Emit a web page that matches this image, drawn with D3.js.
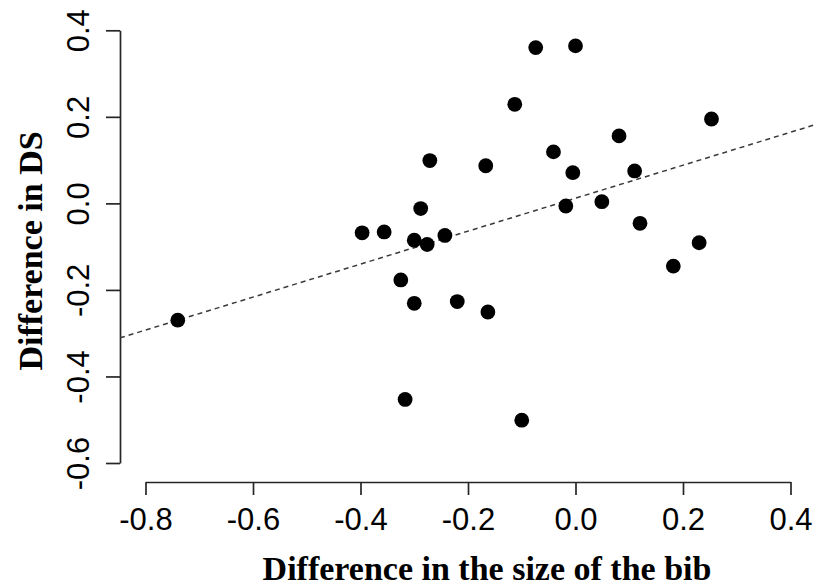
<!DOCTYPE html>
<html>
<head>
<meta charset="utf-8">
<script src="https://cdn.jsdelivr.net/npm/d3@7"></script>
<style>
  html, body { margin: 0; padding: 0; background: #fff; }
  svg { display: block; }
</style>
</head>
<body>
<svg id="chart" width="814" height="586"></svg>
<script>
// Paired differences: bib size (x) against DS (y)
const bibDiff = [-0.740, -0.397, -0.356, -0.325, -0.300, -0.300, -0.288, -0.276, -0.271, -0.243,
                 -0.220, -0.167, -0.163, -0.317, -0.113, -0.100, -0.074, -0.041, -0.018, -0.005,
                  0.000,  0.049,  0.081,  0.110,  0.120,  0.182,  0.230,  0.253];
const dsDiff  = [-0.270, -0.068, -0.066, -0.177, -0.085, -0.231, -0.012, -0.095,  0.099, -0.074,
                 -0.227,  0.087, -0.251, -0.453,  0.229, -0.501,  0.360,  0.119, -0.006,  0.071,
                  0.364,  0.004,  0.156,  0.075, -0.046, -0.145, -0.091,  0.195];

// Fitted least-squares line
const fitIntercept = 0.012;
const fitSlope = 0.381;

// Axis ticks
const xTicks = [-0.8, -0.6, -0.4, -0.2, 0.0, 0.2, 0.4];
const yTicks = [-0.6, -0.4, -0.2, 0.0, 0.2, 0.4];

const xLabel = "Difference in the size of the bib";
const yLabel = "Difference in DS";

const svg = d3.select("#chart");

// Plot region edges (R-style: axes sit on the region border)
const plotLeft = 120, plotRight = 814, plotTop = 0, plotBottom = 482;

const x = d3.scaleLinear().domain([-0.8, 0.4]).range([145.5, 790.5]);
const y = d3.scaleLinear().domain([-0.6, 0.4]).range([463, 30.3]);

const axisColor = "#262626";
const tickFont = "'Liberation Sans', Arial, sans-serif";
const titleFont = "'Liberation Serif', 'Times New Roman', serif";

// Plain hyphen-minus, one decimal
const fmt = d => d.toFixed(1);

// Clip for the fitted line
svg.append("defs").append("clipPath").attr("id", "plotClip")
  .append("rect")
  .attr("x", plotLeft).attr("y", plotTop)
  .attr("width", plotRight - plotLeft).attr("height", plotBottom - plotTop);

// X axis
const gx = svg.append("g")
  .attr("transform", `translate(0,${plotBottom})`)
  .call(d3.axisBottom(x).tickValues(xTicks).tickFormat(fmt)
        .tickSize(13).tickSizeOuter(0));
gx.selectAll("path, line").attr("stroke", axisColor).attr("stroke-width", 1.7);
gx.selectAll("text")
  .attr("y", 48).attr("dy", 0)
  .attr("fill", "#000")
  .style("font-family", tickFont)
  .style("font-size", "31px");

// Y axis
const gy = svg.append("g")
  .attr("transform", `translate(${plotLeft},0)`)
  .call(d3.axisLeft(y).tickValues(yTicks).tickFormat(fmt)
        .tickSize(14).tickSizeOuter(0));
gy.selectAll("path, line").attr("stroke", axisColor).attr("stroke-width", 1.7);
gy.selectAll("text")
  .attr("transform", "rotate(-90)")
  .attr("x", 0).attr("y", -31).attr("dy", 0)
  .attr("text-anchor", "middle")
  .attr("fill", "#000")
  .style("font-family", tickFont)
  .style("font-size", "31px");
gx.select(".domain").attr("fill", "none");
gy.select(".domain").attr("fill", "none");

// Fitted line across the whole plot region
const xa = x.invert(plotLeft), xb = x.invert(plotRight);
svg.append("line")
  .attr("clip-path", "url(#plotClip)")
  .attr("x1", x(xa)).attr("y1", y(fitIntercept + fitSlope * xa))
  .attr("x2", x(xb)).attr("y2", y(fitIntercept + fitSlope * xb))
  .attr("stroke", "#3a3a3a")
  .attr("stroke-width", 1.5)
  .attr("stroke-dasharray", "5,4");

// Points
svg.append("g")
  .selectAll("circle")
  .data(d3.zip(bibDiff, dsDiff))
  .join("circle")
  .attr("cx", d => x(d[0]))
  .attr("cy", d => y(d[1]))
  .attr("r", 7.4)
  .attr("fill", "#000");

// Axis titles
svg.append("text")
  .attr("x", 487).attr("y", 580)
  .attr("text-anchor", "middle")
  .style("font-family", titleFont)
  .style("font-weight", "bold")
  .style("font-size", "34px")
  .text(xLabel);

svg.append("text")
  .attr("transform", `translate(42,251) rotate(-90)`)
  .attr("text-anchor", "middle")
  .style("font-family", titleFont)
  .style("font-weight", "bold")
  .style("font-size", "34px")
  .text(yLabel);
</script>
</body>
</html>
